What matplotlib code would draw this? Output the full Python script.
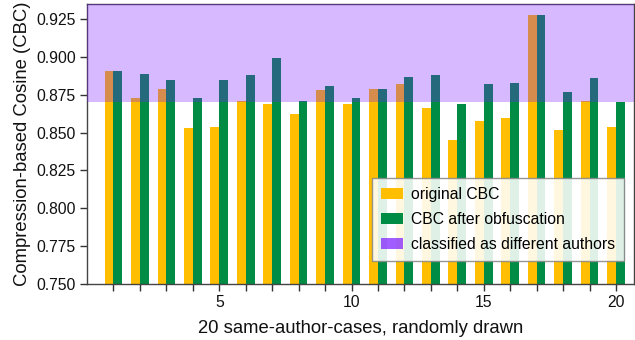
import matplotlib
matplotlib.use("Agg")
import matplotlib.pyplot as plt
from matplotlib.patches import Patch
import numpy as np

plt.rcParams['font.family'] = ['Liberation Sans', 'DejaVu Sans']

cases = list(range(1, 21))
original_cbc = [0.891, 0.873, 0.879, 0.853, 0.854, 0.871, 0.869, 0.862, 0.878, 0.869,
                0.879, 0.882, 0.866, 0.845, 0.858, 0.860, 0.928, 0.852, 0.871, 0.854]
obfuscated_cbc = [0.891, 0.889, 0.885, 0.873, 0.885, 0.888, 0.899, 0.871, 0.881, 0.873,
                  0.879, 0.887, 0.888, 0.869, 0.882, 0.883, 0.928, 0.877, 0.886, 0.870]
threshold = 0.87
xtick_labels = ['' if c % 5 else str(c) for c in cases]

fig = plt.figure(figsize=(6.35, 3.4), dpi=100)
ax = fig.add_axes([87/635, 1-284/340, (634-87)/635, (284-4)/340])

x = np.array(cases)
w = 1/3
ax.bar(x - w/2, np.array(original_cbc) - 0.75, width=w, bottom=0.75,
       color='#ffbf00', zorder=1, lw=0)
ax.bar(x + w/2, np.array(obfuscated_cbc) - 0.75, width=w, bottom=0.75,
       color='#008c44', zorder=1, lw=0)
ax.axhspan(threshold, 1.0, color='#7a19ff', alpha=0.3, lw=0, zorder=3)

ax.set_ylim(0.75, 0.935)
ax.set_xlim(0.0, 20.68)
ax.set_yticks(np.arange(0.75, 0.926, 0.025))
ax.set_yticklabels([f"{v:.3f}" for v in np.arange(0.75, 0.926, 0.025)])
ax.set_xticks(cases)
ax.set_xticklabels(xtick_labels)
ax.tick_params(axis='both', labelsize=11.3, length=5, width=1, color='#333333',
               labelcolor='#111111', direction='out', pad=3)
for s in ax.spines.values():
    s.set_color('#444444')
    s.set_linewidth(1.0)

ax.set_xlabel('20 same-author-cases, randomly drawn', fontsize=13.3, color='#111111', labelpad=7)
ax.set_ylabel('Compression-based Cosine (CBC)', fontsize=13.3, color='#111111', labelpad=4)

handles = [Patch(facecolor='#ffbf00', label='original CBC'),
           Patch(facecolor='#008c44', label='CBC after obfuscation'),
           Patch(facecolor='#7a19ff', alpha=0.7, label='classified as different authors')]
leg = ax.legend(handles=handles, loc='lower right', bbox_to_anchor=(0.982, 0.082),
                borderaxespad=0, fontsize=11.3, fancybox=False, framealpha=0.88,
                edgecolor='#888888', handlelength=1.4, handleheight=0.7,
                handletextpad=0.5, labelspacing=0.62, borderpad=0.58)
leg.set_zorder(5)

fig.savefig('out.png', dpi=100)
